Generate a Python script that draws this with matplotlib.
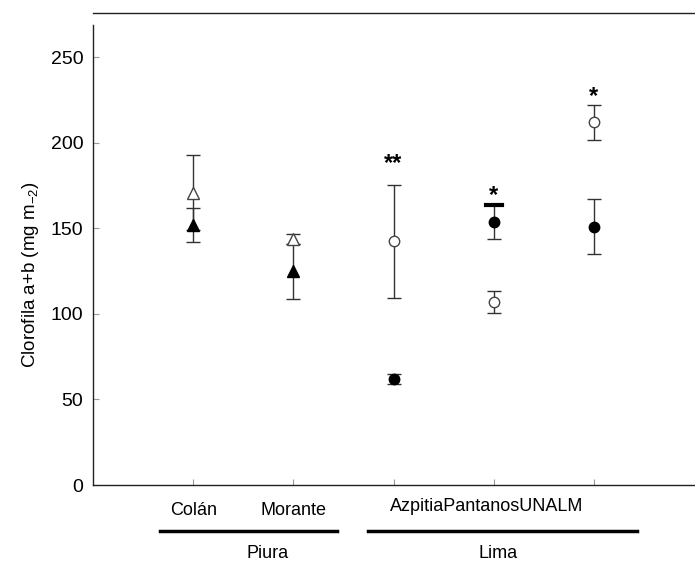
import numpy as np
import matplotlib.pyplot as plt
from matplotlib import transforms

plt.rcParams['font.family'] = ['Liberation Sans', 'DejaVu Sans']
plt.rcParams['mathtext.fontset'] = 'custom'
plt.rcParams['mathtext.rm'] = 'Liberation Sans'

sites = ['Colán', 'Morante', 'Azpitia', 'Pantanos', 'UNALM']
xpos = [1, 2, 3, 4, 5]
open_mean = [171, 144, 142.5, 107, 212]
open_err = [22, 3, 33, 6.5, 10]
filled_mean = [152, 125, 62, 154, 151]
filled_err = [10, 16, 3, 10, 16]
shapes = ['^', '^', 'o', 'o', 'o']
stars = ['', '', '**', '*', '*']
star_y = [0, 0, 188, 169, 227]

fig = plt.figure(figsize=(6.95, 5.62), dpi=100)
ax = fig.add_axes([93 / 695, 77 / 562, 601 / 695, 460 / 562])

ecol = '#333333'
for i in range(len(sites)):
    ms = 8.5 if shapes[i] == '^' else 7.5
    ax.errorbar(xpos[i], open_mean[i], yerr=open_err[i], fmt=shapes[i], ms=ms,
                mfc='white', mec='#444444', mew=1.0, ecolor=ecol, elinewidth=1.0,
                capsize=5, capthick=1.0, zorder=3)
    ax.errorbar(xpos[i], filled_mean[i], yerr=filled_err[i], fmt=shapes[i], ms=ms,
                mfc='black', mec='black', mew=1.0, ecolor=ecol, elinewidth=1.0,
                capsize=5, capthick=1.0, zorder=3)
    if stars[i]:
        ax.text(xpos[i], star_y[i], stars[i], ha='center', va='center',
                fontsize=17, fontweight='bold')

# bar under the Pantanos asterisk
ax.plot([3.92, 4.08], [filled_mean[3] + filled_err[3]] * 2, color='black', lw=3, zorder=4)

ax.set_xlim(0, 6)
ax.set_ylim(0, 269)
ax.set_yticks([0, 50, 100, 150, 200, 250])
ax.set_xticks(xpos)
ax.set_xticklabels(['Colán', 'Morante', '', '', ''])
ax.tick_params(axis='both', direction='in', length=4, color='#999999')
ax.tick_params(axis='x', pad=12, labelsize=13)
ax.tick_params(axis='y', pad=7, labelsize=14)

ax.spines['right'].set_visible(False)
ax.spines['top'].set_position(('outward', 8.6))
for s in ['left', 'bottom', 'top']:
    ax.spines[s].set_linewidth(1.0)
    ax.spines[s].set_color('#222222')

ax.set_ylabel('Clorofila a+b (mg m$_{\\mathregular{-2}}$)', fontsize=13.5)
ax.yaxis.set_label_coords(-0.086, 0.457)

trans = transforms.blended_transform_factory(ax.transData, ax.transAxes)
ax.text(3.93, -0.047, 'AzpitiaPantanosUNALM', transform=trans, ha='center',
        va='center', fontsize=13)

# region bars and names
ax.plot([0.67, 2.44], [-0.1, -0.1], transform=trans, color='black', lw=2.5, clip_on=False)
ax.plot([2.75, 5.43], [-0.1, -0.1], transform=trans, color='black', lw=2.5, clip_on=False)
ax.text(1.74, -0.148, 'Piura', transform=trans, ha='center', va='center', fontsize=13)
ax.text(4.04, -0.148, 'Lima', transform=trans, ha='center', va='center', fontsize=13)

fig.savefig('out.png', dpi=100)
